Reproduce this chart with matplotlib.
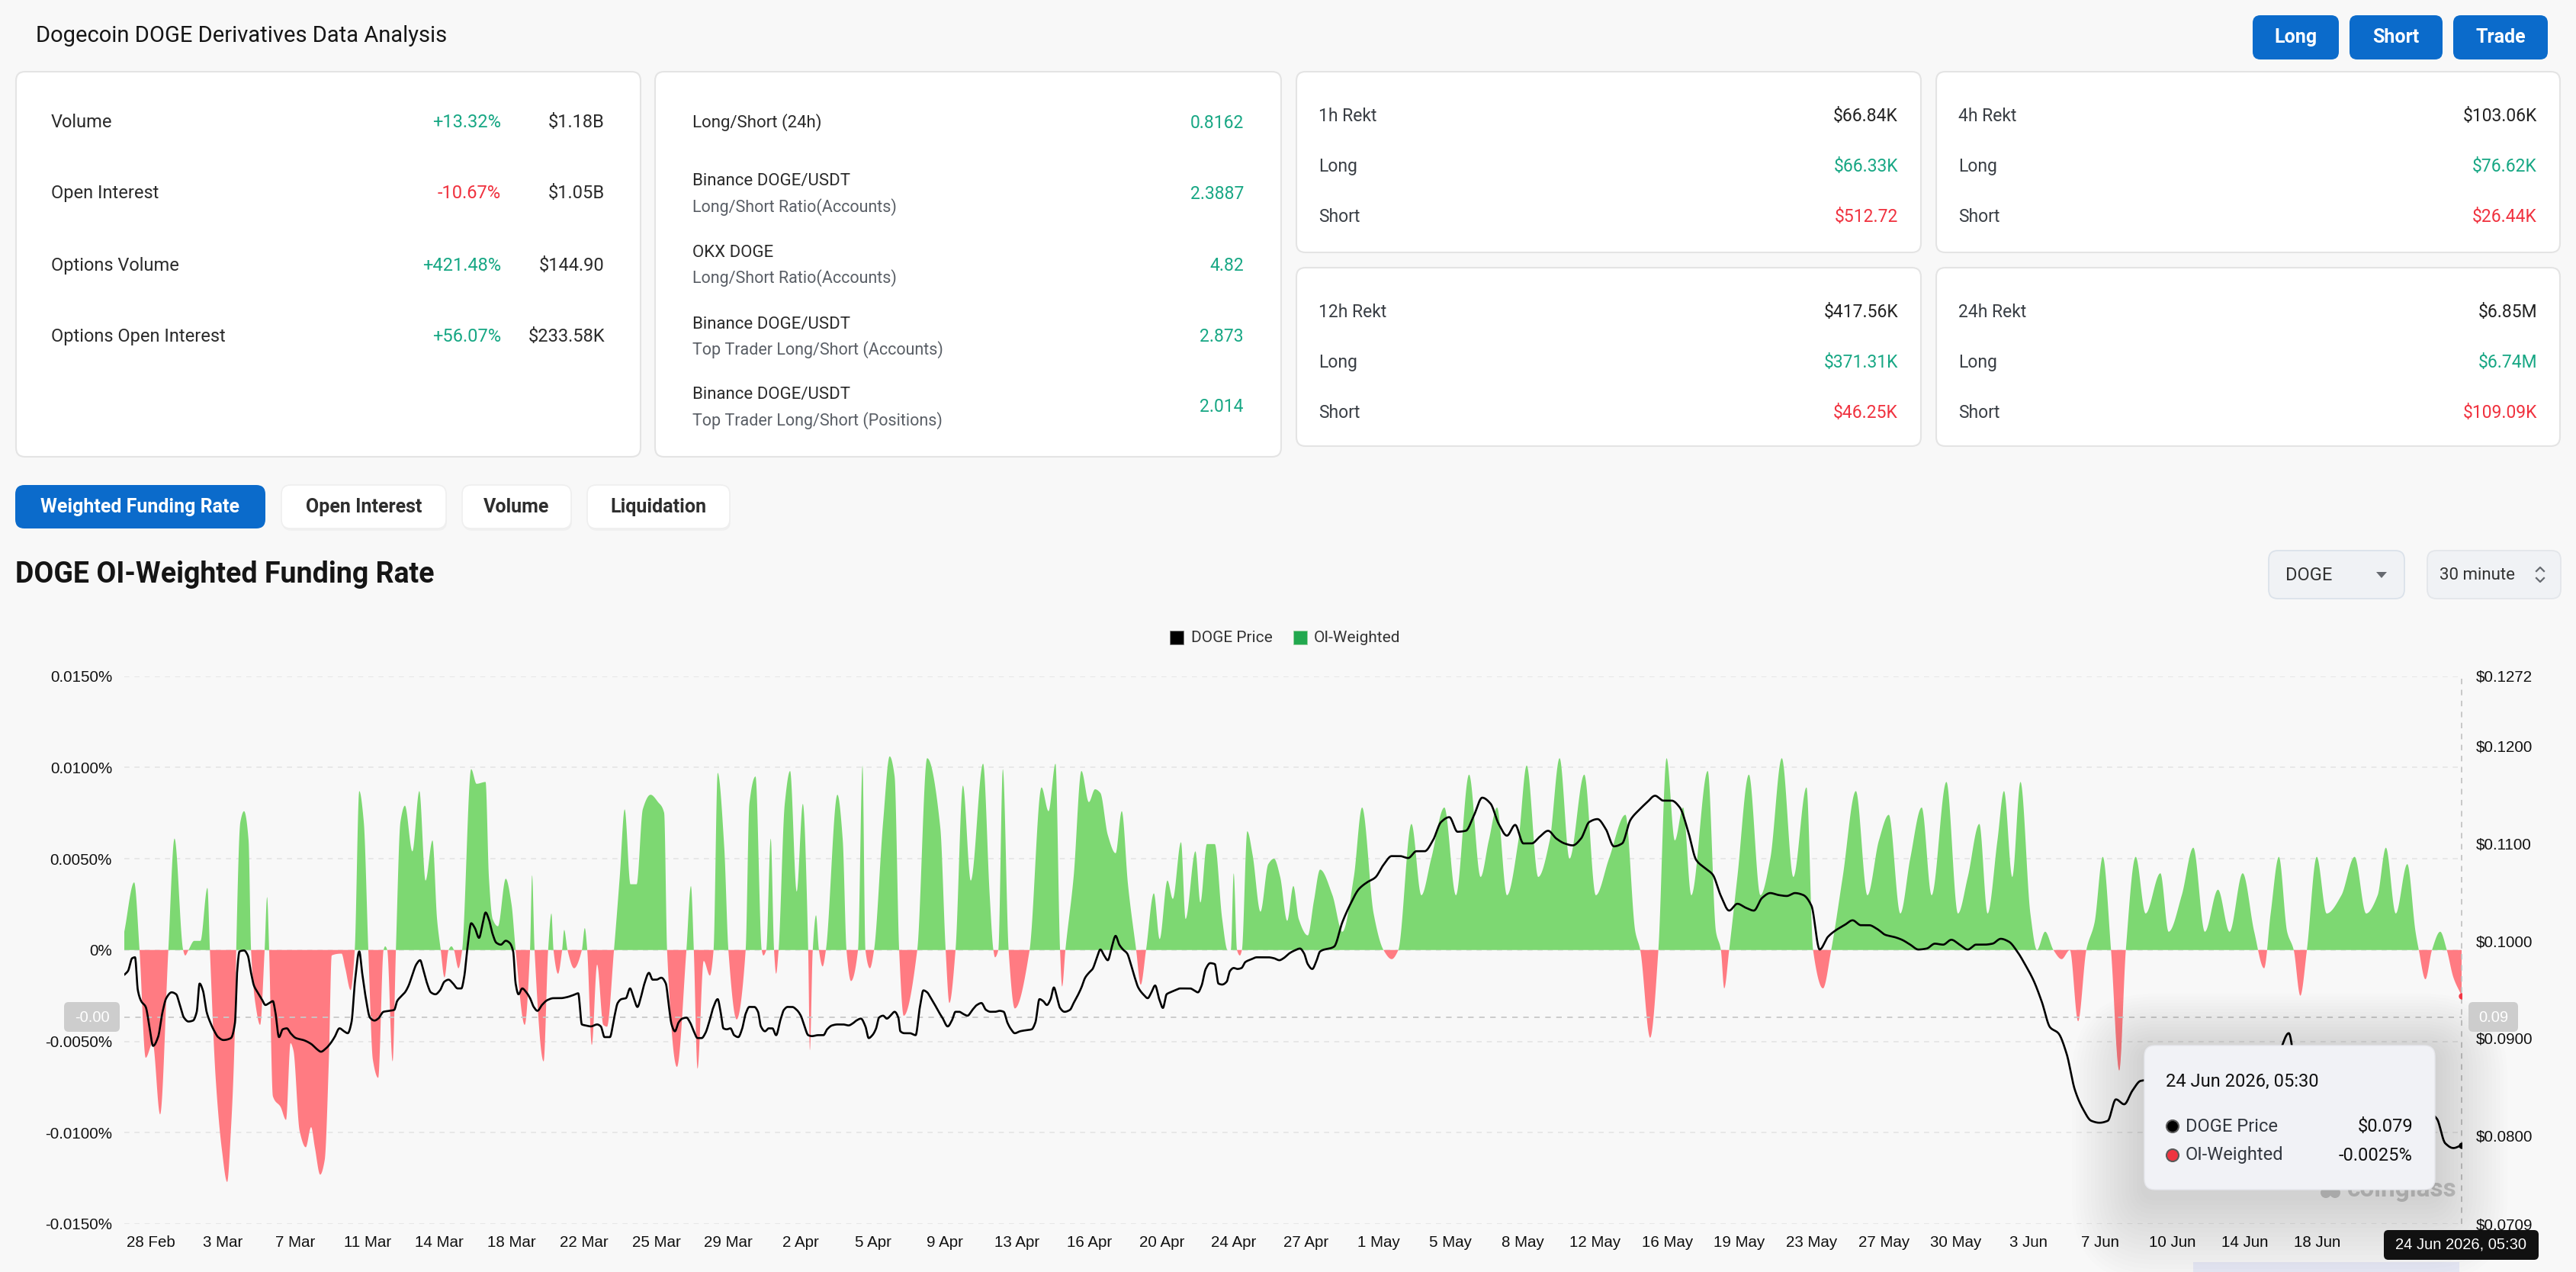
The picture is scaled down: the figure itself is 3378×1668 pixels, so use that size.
import numpy as np
import matplotlib
matplotlib.use("Agg")
import matplotlib.pyplot as plt
from matplotlib.patches import FancyBboxPatch, Circle, Polygon, Rectangle

# ---------------- data ----------------
page_title = "Dogecoin DOGE Derivatives Data Analysis"
top_buttons = ["Long", "Short", "Trade"]

stat_labels = ["Volume", "Open Interest", "Options Volume", "Options Open Interest"]
stat_changes = ["+13.32%", "-10.67%", "+421.48%", "+56.07%"]
stat_values = ["$1.18B", "$1.05B", "$144.90", "$233.58K"]

ratio_titles = ["Long/Short (24h)", "Binance DOGE/USDT", "OKX DOGE",
                "Binance DOGE/USDT", "Binance DOGE/USDT"]
ratio_subtitles = ["", "Long/Short Ratio(Accounts)", "Long/Short Ratio(Accounts)",
                   "Top Trader Long/Short (Accounts)", "Top Trader Long/Short (Positions)"]
ratio_values = ["0.8162", "2.3887", "4.82", "2.873", "2.014"]

rekt_periods = ["1h Rekt", "4h Rekt", "12h Rekt", "24h Rekt"]
rekt_total = ["$66.84K", "$103.06K", "$417.56K", "$6.85M"]
rekt_long = ["$66.33K", "$76.62K", "$371.31K", "$6.74M"]
rekt_short = ["$512.72", "$26.44K", "$46.25K", "$109.09K"]

tab_names = ["Weighted Funding Rate", "Open Interest", "Volume", "Liquidation"]
chart_title = "DOGE OI-Weighted Funding Rate"
symbol_choice = "DOGE"
interval_choice = "30 minute"
series_names = ["DOGE Price", "OI-Weighted"]

date_labels = ["28 Feb", "3 Mar", "7 Mar", "11 Mar", "14 Mar", "18 Mar", "22 Mar", "25 Mar",
               "29 Mar", "2 Apr", "5 Apr", "9 Apr", "13 Apr", "16 Apr", "20 Apr", "24 Apr",
               "27 Apr", "1 May", "5 May", "8 May", "12 May", "16 May", "19 May", "23 May",
               "27 May", "30 May", "3 Jun", "7 Jun", "10 Jun", "14 Jun", "18 Jun"]
last_time_label = "24 Jun 2026, 05:30"

fr_ticks = [0.015, 0.010, 0.005, 0.0, -0.005, -0.010, -0.015]
fr_tick_labels = ["0.0150%", "0.0100%", "0.0050%", "0%", "-0.0050%", "-0.0100%", "-0.0150%"]
px_ticks = [0.1272, 0.1200, 0.1100, 0.1000, 0.0900, 0.0800, 0.0709]
px_tick_labels = ["$0.1272", "$0.1200", "$0.1100", "$0.1000", "$0.0900", "$0.0800", "$0.0709"]
cursor_price = 0.0921

# funding-rate key points (x = 30-minute bar index, value in %)
fr_bar_a = [0, 24, 37, 52, 69, 87, 107, 122, 143, 148,
            156, 170, 185, 202, 208, 222, 237, 250, 259, 269,
            272, 282, 291, 302, 308, 319, 330, 341, 347, 352,
            361, 380, 393, 404, 411, 426, 441, 454, 463, 476,
            487, 497, 504, 528, 537, 550, 560, 571, 582, 593,
            604, 617, 630, 634, 639, 652, 660, 671, 682, 700,
            717, 732, 749, 760, 769, 778, 788, 795, 801, 812,
            821, 843, 856, 878, 886, 895, 908, 927, 941, 951,
            973, 986, 991, 997, 1019, 1030, 1038, 1043, 1054, 1064,
            1069, 1077, 1093, 1112, 1119, 1125, 1136, 1149, 1164, 1173,
            1190, 1204, 1216, 1230, 1245, 1260, 1279, 1297, 1312, 1319,
            1343, 1366, 1377, 1384, 1393, 1408, 1423, 1432, 1442, 1458,
            1468, 1488, 1510, 1519, 1534, 1549, 1553, 1560, 1571, 1579,
            1584, 1590, 1605, 1618, 1634, 1649, 1662, 1666, 1673, 1681,
            1688, 1697, 1705, 1733, 1746, 1755, 1766, 1783, 1794, 1801,
            1812, 1822, 1844, 1860, 1872, 1883, 1894, 1927, 1951, 1983,
            1996, 2005, 2020, 2038, 2057, 2087, 2103, 2112, 2116, 2124,
            2135, 2149, 2164, 2200, 2229, 2246, 2263, 2274, 2279, 2287,
            2307, 2326, 2344, 2359, 2372, 2390, 2409, 2424, 2439, 2459,
            2470, 2483, 2502, 2516, 2535, 2548, 2568, 2579, 2603, 2615,
            2631, 2650, 2668, 2681, 2689, 2696, 2704, 2711, 2716, 2729,
            2742, 2761, 2780, 2794, 2809, 2826, 2841, 2854, 2876, 2891,
            2906]
fr_val_a = [0.0010, 0.0037, 0, -0.0059, -0.0051, -0.0090, 0, 0.0061, 0, -0.0003,
            0, 0.0005, 0.0005, 0.0034, 0, -0.0070, -0.0109, -0.0127, -0.0099, -0.0041,
            0, 0.0070, 0.0076, 0.0060, 0, -0.0030, -0.0041, 0, 0.0029, 0,
            -0.0080, -0.0086, -0.0093, -0.0051, -0.0055, -0.0099, -0.0108, -0.0097, -0.0108, -0.0123,
            -0.0115, -0.0061, -0.0003, -0.0002, -0.0010, -0.0022, 0, 0.0087, 0.0070, 0,
            -0.0060, -0.0070, 0, 0.0002, 0, -0.0061, 0, 0.0070, 0.0079, 0.0054,
            0.0087, 0.0038, 0.0060, 0.0017, 0, -0.0015, 0, 0.0002, 0, -0.0010,
            0, 0.0099, 0.0091, 0.0092, 0.0040, 0.0017, 0.0013, 0.0039, 0.0025, 0,
            -0.0041, 0, 0.0041, 0, -0.0061, 0, 0.0020, 0, -0.0013, 0,
            0.0011, 0, -0.0010, 0, 0.0012, 0, -0.0052, -0.0008, -0.0041, -0.0042,
            0, 0.0040, 0.0077, 0.0036, 0.0036, 0.0077, 0.0085, 0.0081, 0.0075, 0,
            -0.0064, 0, 0.0035, 0, -0.0065, -0.0006, -0.0014, 0, 0.0097, 0.0056,
            0, -0.0038, 0, 0.0080, 0.0095, 0, -0.0003, 0, 0.0061, 0,
            -0.0013, 0, 0.0080, 0.0098, 0.0032, 0.0080, 0, -0.0055, 0, 0.0019,
            0, -0.0009, 0, 0.0085, 0.0060, 0, -0.0017, 0, 0.0101, 0,
            -0.0010, 0, 0.0070, 0.0106, 0.0095, 0, -0.0036, 0, 0.0105, 0.0067,
            0, -0.0029, 0, 0.0090, 0.0038, 0.0102, 0.0030, 0, -0.0004, 0,
            0.0099, 0, -0.0032, 0, 0.0089, 0.0076, 0.0102, 0, -0.0020, 0,
            0.0040, 0.0098, 0.0081, 0.0088, 0.0086, 0.0063, 0.0053, 0.0076, 0.0036, 0,
            -0.0019, 0, 0.0031, 0.0006, 0.0038, 0.0028, 0.0059, 0.0017, 0.0054, 0.0026,
            0.0058, 0.0058, 0.0017, 0, 0, 0.0042, 0, -0.0003, 0, 0.0065,
            0.0052, 0.0021, 0.0047, 0.0050, 0.0040, 0.0016, 0.0035, 0.0017, 0.0008, 0.0027,
            0.0044]
fr_bar_b = [2936, 2960, 2988, 3008, 3036, 3060, 3080, 3096, 3128, 3152,
            3176, 3208, 3236, 3268, 3296, 3316, 3336, 3360, 3388, 3408,
            3436, 3464, 3488, 3512, 3548, 3576, 3608, 3648, 3672, 3684,
            3708, 3728, 3748, 3768, 3788, 3808, 3848, 3868, 3880, 3888,
            3900, 3920, 3948, 3976, 4000, 4028, 4056, 4088, 4104, 4128,
            4148, 4176, 4208, 4236, 4264, 4288, 4316, 4340, 4368, 4392,
            4428, 4456, 4480, 4508, 4528, 4552, 4568, 4588, 4608, 4632,
            4648, 4668, 4688, 4708, 4728, 4748, 4768, 4788, 4808, 4828,
            4848, 4864, 4888, 4912, 4948, 4968, 5000, 5028, 5056, 5088,
            5116, 5148, 5176, 5200, 5216, 5236, 5256, 5272, 5288, 5304,
            5328, 5352, 5388, 5420, 5448, 5476, 5496, 5520, 5548, 5568,
            5576, 5592, 5608, 5628, 5644, 5660, 5680]
fr_val_b = [0.0030, 0.0010, 0.0040, 0.0078, 0.0020, 0, -0.0005, 0, 0.0069, 0.0030,
            0.0050, 0.0078, 0.0030, 0.0096, 0.0040, 0.0060, 0.0078, 0.0030, 0.0060, 0.0101,
            0.0040, 0.0060, 0.0105, 0.0050, 0.0096, 0.0030, 0.0050, 0.0074, 0.0010, 0,
            -0.0048, 0, 0.0105, 0.0060, 0.0078, 0.0030, 0.0098, 0.0010, 0, -0.0021,
            0, 0.0040, 0.0096, 0.0030, 0.0050, 0.0105, 0.0040, 0.0089, 0, -0.0021,
            0, 0.0040, 0.0087, 0.0030, 0.0060, 0.0074, 0.0020, 0.0050, 0.0078, 0.0030,
            0.0092, 0.0020, 0.0040, 0.0069, 0.0020, 0.0060, 0.0087, 0.0040, 0.0092, 0.0020,
            0, 0.0010, 0, -0.0005, 0, -0.0039, 0, 0.0015, 0.0051, 0,
            -0.0066, 0, 0.0051, 0.0020, 0.0042, 0.0010, 0.0030, 0.0056, 0.0010, 0.0033,
            0.0010, 0.0042, 0.0010, -0.0010, 0.0020, 0.0051, 0.0010, 0, -0.0025, 0,
            0.0051, 0.0020, 0.0030, 0.0051, 0.0020, 0.0030, 0.0056, 0.0020, 0.0047, 0.0010,
            0, -0.0016, 0, 0.0010, 0, -0.0015, -0.0025]

# DOGE price key points (x = 30-minute bar index, value in USD)
px_bar_a = [0, 9, 19, 26, 33, 41, 52, 61, 70, 82, 93,
            102, 115, 126, 135, 145, 156, 167, 176, 183, 191,
            200, 209, 219, 228, 241, 259, 269, 274, 280, 291,
            300, 308, 315, 324, 334, 343, 352, 361, 367, 376,
            385, 395, 404, 417, 435, 454, 467, 478, 489, 500,
            511, 523, 534, 543, 552, 561, 571, 578, 587, 597,
            608, 617, 630, 645, 656, 663, 673, 682, 691, 700,
            710, 719, 726, 736, 745, 756, 767, 778, 788, 799,
            810, 819, 826, 834, 843, 852, 862, 871, 878, 886,
            895, 904, 915, 927, 936, 945, 951, 958, 967, 977,
            986, 995, 1004, 1015, 1028, 1043, 1060, 1075, 1090, 1103,
            1112, 1121, 1134, 1149, 1158, 1167, 1180, 1190, 1199, 1208,
            1219, 1229, 1238, 1247, 1256, 1264, 1275, 1284, 1293, 1305,
            1316, 1323, 1330, 1338, 1347, 1356, 1366, 1375, 1384, 1393,
            1403, 1412, 1421, 1431, 1442, 1449, 1456, 1464, 1473, 1482,
            1492, 1501, 1510, 1519, 1531, 1540, 1547, 1557, 1566, 1575,
            1584, 1594, 1603, 1612, 1623, 1634, 1644, 1653, 1662, 1671,
            1686, 1699, 1708, 1720, 1733, 1747, 1760, 1770, 1779, 1790,
            1801, 1809, 1818, 1827, 1834, 1844, 1853, 1862, 1872, 1881,
            1886, 1896, 1909, 1923, 1933, 1942, 1951, 1960, 1970, 1979,
            1988, 2001, 2011, 2020, 2029, 2038, 2049, 2061, 2072, 2083,
            2094, 2105, 2116, 2127, 2137, 2146, 2155, 2164, 2177, 2190,
            2205, 2214, 2224, 2233, 2242, 2251, 2259, 2266, 2274, 2285,
            2298, 2307, 2316, 2326, 2335, 2344, 2353, 2363, 2372, 2381,
            2390, 2400, 2409, 2418, 2427, 2437, 2446, 2455, 2464, 2476,
            2487, 2496, 2505, 2515, 2524, 2533, 2542, 2553, 2566, 2579,
            2590, 2600, 2609, 2618, 2628, 2639, 2650, 2659, 2668, 2679,
            2687, 2696, 2705, 2715, 2724, 2739, 2752, 2765, 2780, 2794,
            2807, 2817, 2831, 2844, 2857, 2867, 2876, 2887, 2896, 2906]
px_val_a = [0.0965, 0.0969, 0.0982, 0.0983, 0.0949, 0.0938, 0.0932, 0.0912, 0.0892, 0.0901, 0.0927,
            0.0941, 0.0947, 0.0945, 0.0934, 0.0921, 0.0917, 0.0918, 0.0927, 0.0956, 0.0949,
            0.0927, 0.0916, 0.0907, 0.0901, 0.0898, 0.0900, 0.0916, 0.0967, 0.0989, 0.0990,
            0.0985, 0.0967, 0.0954, 0.0947, 0.0940, 0.0934, 0.0936, 0.0938, 0.0927, 0.0901,
            0.0909, 0.0910, 0.0905, 0.0900, 0.0898, 0.0894, 0.0889, 0.0886, 0.0889, 0.0894,
            0.0901, 0.0910, 0.0907, 0.0905, 0.0916, 0.0960, 0.0989, 0.0967, 0.0941, 0.0921,
            0.0918, 0.0920, 0.0927, 0.0928, 0.0929, 0.0938, 0.0943, 0.0947, 0.0954, 0.0965,
            0.0976, 0.0980, 0.0971, 0.0956, 0.0947, 0.0945, 0.0949, 0.0958, 0.0960, 0.0956,
            0.0951, 0.0951, 0.0963, 0.0993, 0.1018, 0.1013, 0.1003, 0.1018, 0.1029, 0.1022,
            0.1007, 0.0998, 0.0996, 0.1000, 0.0998, 0.0989, 0.0956, 0.0945, 0.0951, 0.0947,
            0.0941, 0.0932, 0.0928, 0.0934, 0.0939, 0.0941, 0.0941, 0.0942, 0.0944, 0.0946,
            0.0914, 0.0913, 0.0912, 0.0914, 0.0912, 0.0901, 0.0901, 0.0920, 0.0936, 0.0940,
            0.0941, 0.0951, 0.0941, 0.0932, 0.0943, 0.0956, 0.0967, 0.0960, 0.0960, 0.0962,
            0.0956, 0.0934, 0.0914, 0.0907, 0.0916, 0.0920, 0.0921, 0.0916, 0.0907, 0.0900,
            0.0900, 0.0905, 0.0916, 0.0931, 0.0940, 0.0927, 0.0910, 0.0909, 0.0910, 0.0903,
            0.0901, 0.0909, 0.0925, 0.0932, 0.0932, 0.0927, 0.0912, 0.0907, 0.0910, 0.0910,
            0.0903, 0.0918, 0.0929, 0.0932, 0.0932, 0.0929, 0.0923, 0.0912, 0.0903, 0.0902,
            0.0903, 0.0903, 0.0909, 0.0913, 0.0914, 0.0914, 0.0913, 0.0915, 0.0918, 0.0920,
            0.0912, 0.0900, 0.0903, 0.0910, 0.0921, 0.0923, 0.0920, 0.0923, 0.0927, 0.0921,
            0.0907, 0.0905, 0.0905, 0.0903, 0.0931, 0.0949, 0.0947, 0.0941, 0.0934, 0.0927,
            0.0921, 0.0912, 0.0918, 0.0927, 0.0927, 0.0925, 0.0923, 0.0929, 0.0934, 0.0936,
            0.0929, 0.0927, 0.0927, 0.0928, 0.0927, 0.0916, 0.0909, 0.0905, 0.0907, 0.0908,
            0.0909, 0.0916, 0.0940, 0.0938, 0.0934, 0.0940, 0.0952, 0.0943, 0.0931, 0.0927,
            0.0929, 0.0936, 0.0943, 0.0952, 0.0962, 0.0967, 0.0971, 0.0982, 0.0991, 0.0985,
            0.0980, 0.0994, 0.1005, 0.0996, 0.0991, 0.0987, 0.0976, 0.0963, 0.0952, 0.0945,
            0.0941, 0.0947, 0.0954, 0.0940, 0.0931, 0.0945, 0.0947, 0.0949, 0.0951, 0.0951,
            0.0951, 0.0949, 0.0947, 0.0954, 0.0971, 0.0977, 0.0976, 0.0956, 0.0955, 0.0958,
            0.0969, 0.0972, 0.0971, 0.0972, 0.0978, 0.0981, 0.0983, 0.0983, 0.0983, 0.0982,
            0.0980, 0.0982, 0.0987, 0.0990, 0.0992, 0.0987, 0.0976, 0.0971, 0.0978, 0.0989]
px_bar_b = list(range(2940, 5681, 20))
px_val_b = [0.0994, 0.1019, 0.1038, 0.1053, 0.1060, 0.1065, 0.1078, 0.1087, 0.1087, 0.1085,
            0.1092, 0.1092, 0.1103, 0.1122, 0.1127, 0.1112, 0.1113, 0.1129, 0.1147, 0.1141,
            0.1120, 0.1108, 0.1119, 0.1100, 0.1100, 0.1107, 0.1113, 0.1105, 0.1100, 0.1098,
            0.1105, 0.1122, 0.1125, 0.1115, 0.1097, 0.1100, 0.1124, 0.1134, 0.1142, 0.1149,
            0.1144, 0.1144, 0.1137, 0.1113, 0.1083, 0.1075, 0.1068, 0.1046, 0.1031, 0.1038,
            0.1034, 0.1031, 0.1044, 0.1049, 0.1047, 0.1046, 0.1049, 0.1047, 0.1036, 0.0991,
            0.1004, 0.1011, 0.1016, 0.1021, 0.1016, 0.1016, 0.1012, 0.1006, 0.1004, 0.1001,
            0.0996, 0.0991, 0.0992, 0.0997, 0.0996, 0.1001, 0.0996, 0.0991, 0.0996, 0.0996,
            0.0997, 0.1002, 0.0999, 0.0989, 0.0975, 0.0959, 0.0937, 0.0911, 0.0905, 0.0884,
            0.0847, 0.0827, 0.0815, 0.0813, 0.0815, 0.0837, 0.0832, 0.0846, 0.0856, 0.0857,
            0.0851, 0.0847, 0.0842, 0.0837, 0.0840, 0.0842, 0.0847, 0.0840, 0.0840, 0.0847,
            0.0856, 0.0842, 0.0839, 0.0847, 0.0861, 0.0888, 0.0905, 0.0859, 0.0847, 0.0844,
            0.0840, 0.0837, 0.0840, 0.0839, 0.0835, 0.0837, 0.0834, 0.0835, 0.0832, 0.0834,
            0.0830, 0.0830, 0.0827, 0.0824, 0.0817, 0.0792, 0.0787, 0.0790]

fr_bar = fr_bar_a + fr_bar_b
fr_val = fr_val_a + fr_val_b
px_bar = px_bar_a + px_bar_b
px_val = px_val_a + px_val_b

# ---------------- helpers ----------------
W, H = 3378, 1668
UI = ["Roboto", "DejaVu Sans"]
AXF = ["Liberation Sans", "DejaVu Sans"]
plt.rcParams["font.family"] = AXF

GREEN_TXT = "#17a784"
RED_TXT = "#f0323f"
BLUE = "#0b6bcb"
AREA_G = "#7dd872"
AREA_R = "#ff7b82"


def smooth(x, y, xn):
    """Monotone cubic (Fritsch-Carlson) rendering through the key points."""
    x = np.asarray(x, float)
    y = np.asarray(y, float)
    h = np.diff(x)
    d = np.diff(y) / h
    m = np.zeros_like(y)
    m[0], m[-1] = d[0], d[-1]
    for k in range(1, len(y) - 1):
        if d[k - 1] * d[k] <= 0:
            m[k] = 0.0
        else:
            w1 = 2 * h[k] + h[k - 1]
            w2 = h[k] + 2 * h[k - 1]
            m[k] = (w1 + w2) / (w1 / d[k - 1] + w2 / d[k])
    idx = np.clip(np.searchsorted(x, xn) - 1, 0, len(x) - 2)
    t = (xn - x[idx]) / h[idx]
    h00 = 2 * t ** 3 - 3 * t ** 2 + 1
    h10 = t ** 3 - 2 * t ** 2 + t
    h01 = -2 * t ** 3 + 3 * t ** 2
    h11 = t ** 3 - t ** 2
    return h00 * y[idx] + h10 * h[idx] * m[idx] + h01 * y[idx + 1] + h11 * h[idx] * m[idx + 1]


def rbox(a, x0, y0, x1, y1, fc, ec="none", r=12, lw=1.5, z=1, alpha=1.0):
    p = FancyBboxPatch((x0, y0), x1 - x0, y1 - y0,
                       boxstyle=f"round,pad=0,rounding_size={r}",
                       fc=fc, ec=ec, lw=lw, zorder=z, alpha=alpha)
    a.add_patch(p)


def txt(a, x, y, s, size, color="#222222", ha="left", weight="normal", family=UI, z=5, va="center"):
    a.text(x, y, s, fontsize=size, color=color, ha=ha, va=va, fontweight=weight,
           family=family, zorder=z)


fig = plt.figure(figsize=(W / 100, H / 100), dpi=100)
fig.patch.set_facecolor("#f8f8f8")

bg = fig.add_axes([0, 0, 1, 1])
bg.set_zorder(0)
bg.set_xlim(0, W)
bg.set_ylim(H, 0)
bg.axis("off")

# ---------------- header ----------------
txt(bg, 47, 47, page_title, 21, color="#161616")
btn_x = [(2954, 3067), (3081, 3203), (3217, 3341)]
for (x0, x1), name in zip(btn_x, top_buttons):
    rbox(bg, x0, 20, x1, 78, BLUE, r=10)
    txt(bg, (x0 + x1) / 2, 49, name, 18, color="white", ha="center", weight="bold")

# ---------------- cards ----------------
CARD_EC = "#e4e4e4"
rbox(bg, 21, 94, 840, 599, "white", CARD_EC, r=12, lw=1.5)
rbox(bg, 859, 94, 1680, 599, "white", CARD_EC, r=12, lw=1.5)
rekt_boxes = [(1700, 94, 2519, 331), (2539, 94, 3357, 331),
              (1700, 351, 2519, 585), (2539, 351, 3357, 585)]
for b in rekt_boxes:
    rbox(bg, *b, "white", CARD_EC, r=12, lw=1.5)

rows1 = [160, 253, 348, 441]
for y, lab, ch, val in zip(rows1, stat_labels, stat_changes, stat_values):
    txt(bg, 67, y, lab, 17, color="#2b2b2b")
    txt(bg, 657, y, ch, 17, color=GREEN_TXT if ch.startswith("+") else RED_TXT, ha="right")
    txt(bg, 793, y, val, 17, color="#2b2b2b", ha="right")

rows2 = [(161, None, 161), (237, 272, 254), (331, 365, 348), (425, 459, 441), (517, 552, 534)]
for (yt, ys, yv), t1, t2, v in zip(rows2, ratio_titles, ratio_subtitles, ratio_values):
    txt(bg, 908, yt, t1, 16, color="#2b2b2b")
    if ys is not None:
        txt(bg, 908, ys, t2, 15.5, color="#5a5f66")
    txt(bg, 1631, yv, v, 16.5, color=GREEN_TXT, ha="right")

for (x0, y0, x1, y1), per, tot, lg, sh in zip(rekt_boxes, rekt_periods, rekt_total, rekt_long, rekt_short):
    lx = x0 + 29
    rx = x1 - 30
    ys = [y0 + 58, y0 + 124, y0 + 190]
    txt(bg, lx, ys[0], per, 16.5, color="#3a3f45")
    txt(bg, rx, ys[0], tot, 16.5, color="#222222", ha="right")
    txt(bg, lx, ys[1], "Long", 16.5, color="#3a3f45")
    txt(bg, rx, ys[1], lg, 16.5, color=GREEN_TXT, ha="right")
    txt(bg, lx, ys[2], "Short", 16.5, color="#3a3f45")
    txt(bg, rx, ys[2], sh, 16.5, color=RED_TXT, ha="right")

# ---------------- tabs ----------------
tab_x = [(20, 348), (369, 585), (606, 749), (770, 957)]
for i, ((x0, x1), name) in enumerate(zip(tab_x, tab_names)):
    if i == 0:
        rbox(bg, x0, 636, x1, 693, BLUE, r=12)
        txt(bg, (x0 + x1) / 2, 665, name, 18, color="white", ha="center", weight="bold")
    else:
        rbox(bg, x0 + 1, 639, x1 + 1, 696, "#000000", r=12, z=0.9, alpha=0.03)
        rbox(bg, x0, 636, x1, 693, "white", "#efefef", r=12, lw=1.2)
        txt(bg, (x0 + x1) / 2, 665, name, 18, color="#2e2e2e", ha="center", weight="bold")

txt(bg, 20, 753, chart_title, 27, color="#151515", weight="bold")

# dropdowns
rbox(bg, 2975, 722, 3153, 785, "#f0f2f5", "#dbe2ea", r=12, lw=1.3)
txt(bg, 2997, 754, symbol_choice, 17, color="#333333")
bg.add_patch(Polygon([(3116, 750), (3130, 750), (3123, 758)], closed=True, fc="#666a70", ec="none", zorder=5))
rbox(bg, 3183, 722, 3358, 785, "#f0f2f5", "#e3e6ea", r=12, lw=1.3)
txt(bg, 3199, 754, interval_choice, 16, color="#333333")
bg.plot([3326, 3331, 3336], [749, 744, 749], color="#666a70", lw=1.6, zorder=5)
bg.plot([3326, 3331, 3336], [758, 763, 758], color="#666a70", lw=1.6, zorder=5)

# legend
bg.add_patch(Rectangle((1534, 827), 18, 18, fc="black", ec="#888888", lw=0.6, zorder=5))
txt(bg, 1562, 836, series_names[0], 15, color="#333333")
bg.add_patch(Rectangle((1696, 827), 18, 18, fc="#22a84e", ec="#9ad19f", lw=0.6, zorder=5))
txt(bg, 1723, 836, series_names[1], 15, color="#333333")

# ---------------- chart ----------------
L, R, T, B = 163, 3228, 886.5, 1605
ax = fig.add_axes([L / W, 1 - B / H, (R - L) / W, (B - T) / H])
ax.set_zorder(2)
ax.patch.set_visible(False)
ax2 = ax.twinx()
ax2.set_zorder(3)
ax2.patch.set_visible(False)

xd = np.arange(0, fr_bar[-1] + 0.5, 0.5)
fr_s = smooth(fr_bar, fr_val, xd)
px_s = smooth(px_bar, px_val, xd)

for yv in fr_ticks:
    ax.axhline(yv, color="#e4e4e4", lw=1.2, ls=(0, (4, 4)), zorder=0)

ax.fill_between(xd, fr_s, 0, where=fr_s >= 0, interpolate=True, color=AREA_G, lw=0, zorder=1)
ax.fill_between(xd, fr_s, 0, where=fr_s <= 0, interpolate=True, color=AREA_R, lw=0, zorder=1)
ax.plot([fr_bar[-1]], [fr_val[-1]], "o", ms=5, color="#f23645", zorder=4)

ax2.plot(xd, px_s, color="black", lw=1.9, zorder=3, solid_capstyle="round", solid_joinstyle="round")
ax2.plot([px_bar[-1]], [px_val[-1]], "o", ms=5, color="black", zorder=4)
ax2.axhline(cursor_price, color="#c8c8c8", lw=1.3, ls=(0, (4, 4)), zorder=2)
ax.axvline(fr_bar[-1], color="#c4c4c4", lw=1.3, ls=(0, (4, 4)), zorder=2, clip_on=False)

ax.set_xlim(0, fr_bar[-1])
ax.set_ylim(-0.015, 0.015)
ax2.set_ylim(0.0709, 0.1272)

tick_pos = [64 + 175.5 * k for k in range(len(date_labels))]
ax.set_xticks(tick_pos)
ax.set_xticklabels(date_labels)
ax.set_yticks(fr_ticks)
ax.set_yticklabels(fr_tick_labels)
ax2.set_yticks(px_ticks)
ax2.set_yticklabels(px_tick_labels)
ax.tick_params(axis="x", length=0, pad=11, labelsize=14.8, labelcolor="#111111")
ax.tick_params(axis="y", length=0, pad=11.5, labelsize=14.8, labelcolor="#111111")
ax2.tick_params(axis="y", length=0, pad=13.5, labelsize=14.8, labelcolor="#111111")
for a in (ax, ax2):
    for s in a.spines.values():
        s.set_visible(False)

# ---------------- overlay (tooltip, cursor labels) ----------------
top = fig.add_axes([0, 0, 1, 1])
top.set_zorder(10)
top.patch.set_visible(False)
top.set_xlim(0, W)
top.set_ylim(H, 0)
top.axis("off")

# watermark
txt(top, 3150, 1560, "coinglass", 24, color="#cfcfcf", ha="center", weight="bold", z=1)
for cx, cy in [(3050, 1552), (3062, 1552), (3050, 1564), (3062, 1564)]:
    top.add_patch(Circle((cx, cy), 7, fc="#cfcfcf", ec="none", zorder=1))

# tooltip shadow + box
tx0, ty0, tx1, ty1 = 2812, 1371, 3193, 1560
for i in range(1, 20):
    rbox(top, tx0 - i * 5, ty0 - i * 4 + 8, tx1 + i * 5, ty1 + i * 6 + 8, "black", r=14 + i * 5,
         z=2, alpha=0.007)
rbox(top, tx0, ty0, tx1, ty1, "#f1f2f6", "#e6e7ec", r=14, lw=1, z=3)
txt(top, 2840, 1418, last_time_label, 17, color="#111111", z=4)
top.add_patch(Circle((2849, 1477), 8, fc="black", ec="#5a5a5a", lw=1.5, zorder=4))
txt(top, 2866, 1477, series_names[0], 17, color="#333840", z=4)
txt(top, 3164, 1477, f"${px_val[-1]:.3f}", 17, color="#111111", ha="right", z=4)
top.add_patch(Circle((2849, 1515), 8, fc="#ee3440", ec="#5a5a5a", lw=1.5, zorder=4))
txt(top, 2866, 1515, series_names[1], 17, color="#333840", z=4)
txt(top, 3164, 1515, f"{fr_val[-1]:.4f}%", 17, color="#111111", ha="right", z=4)

# cursor labels
rbox(top, 84, 1314, 157, 1353, "#cdcdcd", r=6, z=4)
txt(top, 120.5, 1334, "-0.00", 14.5, color="white", ha="center", family=AXF, z=5)
rbox(top, 3237, 1314, 3302, 1353, "#cdcdcd", r=6, z=4)
txt(top, 3269.5, 1334, f"{cursor_price:.2f}", 14.5, color="white", ha="center", family=AXF, z=5)
rbox(top, 3126, 1613, 3329, 1652, "#111111", r=6, z=4)
txt(top, 3227.5, 1632.5, last_time_label, 14.5, color="white", ha="center", family=AXF, z=5)

# data-zoom strip hint
top.add_patch(Rectangle((2876, 1655), 349, 13, fc="#e7e9f6", ec="none", zorder=1))

fig.savefig("out.png", dpi=100, facecolor=fig.get_facecolor())
